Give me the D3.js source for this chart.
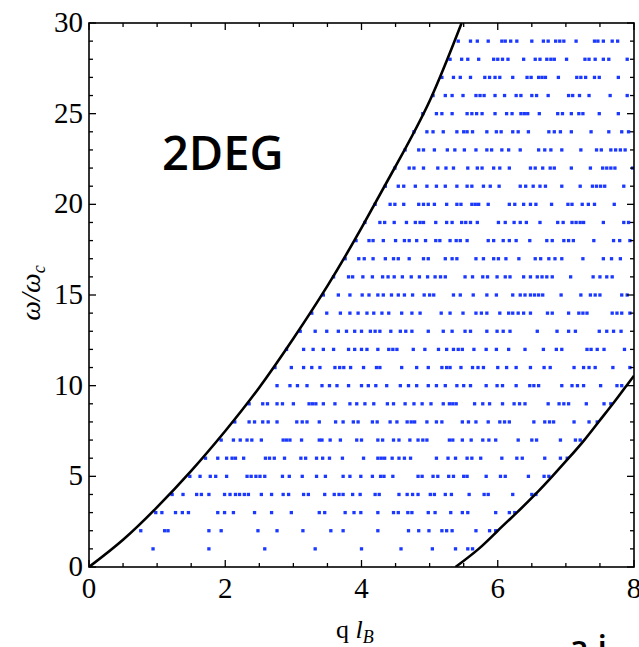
<!DOCTYPE html>
<html>
<head>
<meta charset="utf-8">
<script src="https://cdn.jsdelivr.net/npm/d3@7"></script>
<style>
  body { margin: 0; background: #fff; overflow: hidden; }
  svg { display: block; }
</style>
</head>
<body>
<svg id="chart"></svg>
<script>
// axis ticks
const xMajor = [0, 2, 4, 6, 8];
const xMinor = [0.5, 1, 1.5, 2.5, 3, 3.5, 4.5, 5, 5.5, 6.5, 7, 7.5];
const yMajor = [0, 5, 10, 15, 20, 25, 30];
const yMinor = [1, 2, 3, 4, 6, 7, 8, 9, 11, 12, 13, 14, 16, 17, 18, 19, 21, 22, 23, 24, 26, 27, 28, 29];

// boundary curves (q, w)
const upperCurve = [[0, 0], [0.5, 1.5], [1, 3.3], [1.5, 5.3], [2, 7.5], [2.5, 9.9], [3, 12.6],
  [3.5, 15.5], [4, 18.7], [4.5, 22.1], [5, 25.7], [5.47, 30]];
const lowerCurve = [[5.38, 0], [5.72, 1], [6, 2], [6.28, 3], [6.55, 4], [6.8, 5], [7.04, 6],
  [7.27, 7], [7.48, 8], [7.69, 9], [7.89, 10], [8, 10.55]];

// continuum dots: row levels and the q positions in each row
const rowLevels = [1, 2, 3, 4, 5, 6, 7, 8, 9, 10, 11, 12, 13, 14, 15, 16, 17, 18, 19, 20,
  21, 22, 23, 24, 25, 26, 27, 28, 29];
const rowDots = [
  [0.94, 1.76, 2.58, 3.32, 4.0, 4.58, 5.04, 5.38, 5.56, 5.63],
  [0.76, 1.11, 1.16, 1.76, 1.94, 2.48, 2.76, 3.14, 3.55, 3.73, 4.24, 4.69, 4.84, 4.99, 5.18, 5.25, 5.33, 5.68, 5.88, 5.97],
  [0.98, 1.07, 1.27, 1.37, 1.46, 1.89, 1.99, 2.12, 2.43, 2.68, 2.97, 3.38, 3.46, 3.76, 3.89, 3.99, 4.24, 4.47, 4.54, 4.68, 4.74, 4.98, 5.08, 5.31, 5.48, 5.56, 5.97, 6.17, 6.25],
  [1.22, 1.38, 1.58, 1.65, 1.76, 1.99, 2.07, 2.15, 2.21, 2.28, 2.34, 2.53, 2.68, 2.85, 2.93, 3.15, 3.22, 3.46, 3.6, 3.67, 3.73, 3.87, 3.98, 4.2, 4.26, 4.55, 4.67, 4.75, 4.83, 5.01, 5.07, 5.23, 5.32, 5.58, 5.8, 5.86, 6.22, 6.5, 6.56],
  [1.48, 1.63, 1.78, 1.86, 2.02, 2.32, 2.38, 2.45, 2.51, 2.58, 2.84, 2.94, 3.13, 3.34, 3.47, 3.73, 3.83, 3.99, 4.16, 4.28, 4.33, 4.46, 4.83, 4.89, 5.05, 5.12, 5.28, 5.35, 5.5, 5.55, 5.83, 6.04, 6.11, 6.45, 6.68, 6.75],
  [1.71, 1.89, 2.02, 2.1, 2.15, 2.27, 2.59, 2.65, 2.72, 2.87, 3.11, 3.18, 3.34, 3.43, 3.53, 3.72, 4.03, 4.24, 4.29, 4.34, 4.45, 4.55, 4.63, 4.72, 5.1, 5.27, 5.38, 5.55, 5.62, 5.75, 6.06, 6.28, 6.36, 6.69, 6.92, 7.02],
  [1.94, 2.12, 2.22, 2.32, 2.39, 2.53, 2.85, 2.9, 2.95, 3.12, 3.38, 3.42, 3.54, 3.69, 3.93, 4.0, 4.24, 4.31, 4.47, 4.55, 4.71, 4.83, 4.9, 4.96, 5.29, 5.34, 5.48, 5.61, 5.78, 5.87, 5.97, 6.3, 6.5, 6.57, 6.92, 7.14, 7.21],
  [2.14, 2.35, 2.43, 2.55, 2.63, 2.76, 3.05, 3.13, 3.2, 3.38, 3.62, 3.73, 3.88, 3.95, 4.16, 4.23, 4.42, 4.52, 4.67, 4.73, 4.78, 4.96, 5.1, 5.18, 5.48, 5.57, 5.68, 5.86, 6.03, 6.1, 6.17, 6.53, 6.69, 6.76, 6.82, 7.12, 7.34, 7.46],
  [2.35, 2.55, 2.62, 2.76, 2.84, 3.0, 3.23, 3.28, 3.33, 3.44, 3.61, 3.83, 3.93, 4.05, 4.18, 4.38, 4.47, 4.64, 4.77, 4.89, 5.02, 5.2, 5.29, 5.34, 5.39, 5.66, 5.78, 5.88, 6.07, 6.24, 6.32, 6.4, 6.74, 6.9, 6.97, 7.04, 7.3, 7.56, 7.66],
  [2.76, 2.95, 3.06, 3.2, 3.42, 3.53, 3.64, 3.81, 4.0, 4.1, 4.21, 4.37, 4.57, 4.69, 4.81, 4.98, 5.1, 5.23, 5.4, 5.5, 5.6, 5.83, 5.99, 6.07, 6.27, 6.47, 6.53, 6.6, 6.94, 7.09, 7.17, 7.26, 7.51, 7.75, 7.82],
  [2.73, 2.97, 3.15, 3.27, 3.39, 3.61, 3.68, 3.74, 3.84, 4.03, 4.22, 4.27, 4.59, 4.81, 4.98, 5.18, 5.25, 5.3, 5.46, 5.63, 5.71, 5.79, 6.0, 6.13, 6.27, 6.48, 6.68, 6.77, 7.12, 7.26, 7.34, 7.43, 7.69, 7.94],
  [2.9, 3.15, 3.29, 3.44, 3.59, 3.81, 3.9, 4.0, 4.08, 4.24, 4.4, 4.46, 4.52, 4.76, 4.93, 5.13, 5.25, 5.35, 5.42, 5.48, 5.65, 5.83, 5.98, 6.16, 6.4, 6.67, 6.86, 6.94, 7.31, 7.37, 7.46, 7.56, 7.86],
  [3.1, 3.32, 3.49, 3.66, 3.78, 3.9, 4.0, 4.13, 4.2, 4.27, 4.43, 4.57, 4.65, 4.74, 4.98, 5.2, 5.33, 5.52, 5.6, 5.84, 5.99, 6.08, 6.18, 6.58, 6.87, 7.04, 7.14, 7.49, 7.6, 7.7, 7.81],
  [3.27, 3.49, 3.69, 3.83, 3.95, 4.08, 4.18, 4.3, 4.4, 4.59, 4.74, 4.86, 5.17, 5.3, 5.49, 5.68, 5.76, 5.84, 6.03, 6.16, 6.22, 6.3, 6.38, 6.48, 6.73, 6.8, 7.04, 7.19, 7.25, 7.31, 7.68, 7.75, 7.82, 7.94],
  [3.44, 3.66, 3.83, 4.01, 4.11, 4.24, 4.32, 4.44, 4.54, 4.63, 4.75, 4.92, 5.0, 5.06, 5.35, 5.45, 5.64, 5.84, 5.98, 6.22, 6.33, 6.4, 6.48, 6.54, 6.6, 6.66, 6.93, 7.22, 7.36, 7.43, 7.5, 7.82, 7.9],
  [3.59, 3.81, 3.87, 4.02, 4.16, 4.31, 4.39, 4.48, 4.6, 4.73, 4.85, 4.97, 5.08, 5.16, 5.23, 5.52, 5.63, 5.78, 5.85, 5.99, 6.11, 6.18, 6.38, 6.48, 6.58, 6.65, 6.72, 6.8, 7.07, 7.4, 7.5, 7.6, 7.68],
  [3.76, 3.96, 4.04, 4.17, 4.35, 4.47, 4.54, 4.7, 4.91, 4.98, 5.23, 5.33, 5.4, 5.68, 5.79, 5.94, 6.01, 6.12, 6.31, 6.55, 6.63, 6.75, 6.84, 6.94, 7.25, 7.55, 7.67, 7.8],
  [3.92, 4.11, 4.17, 4.32, 4.5, 4.63, 4.7, 4.81, 4.94, 5.09, 5.15, 5.3, 5.39, 5.45, 5.55, 5.86, 5.94, 6.08, 6.17, 6.27, 6.47, 6.72, 6.8, 6.97, 7.04, 7.11, 7.41, 7.7, 7.79, 7.94],
  [4.05, 4.27, 4.34, 4.48, 4.66, 4.79, 4.86, 4.91, 5.09, 5.25, 5.33, 5.47, 5.53, 5.6, 5.7, 6.01, 6.11, 6.24, 6.33, 6.42, 6.62, 6.88, 6.96, 7.09, 7.15, 7.21, 7.26, 7.55, 7.85, 7.92],
  [4.2, 4.42, 4.49, 4.62, 4.84, 4.91, 4.98, 5.07, 5.25, 5.4, 5.46, 5.62, 5.67, 5.72, 5.86, 6.17, 6.25, 6.38, 6.48, 6.56, 6.79, 7.03, 7.09, 7.24, 7.33, 7.42, 7.71],
  [4.35, 4.54, 4.62, 4.79, 4.96, 5.1, 5.23, 5.4, 5.55, 5.62, 5.79, 5.89, 6.02, 6.33, 6.41, 6.52, 6.62, 6.7, 6.94, 7.21, 7.39, 7.45, 7.51, 7.57, 7.85],
  [4.49, 4.7, 4.77, 4.91, 5.12, 5.24, 5.35, 5.56, 5.7, 5.77, 5.94, 6.03, 6.17, 6.48, 6.55, 6.66, 6.77, 6.83, 7.08, 7.36, 7.54, 7.6, 7.66, 7.72, 7.98],
  [4.64, 4.84, 4.91, 5.07, 5.26, 5.37, 5.51, 5.68, 5.84, 5.91, 6.06, 6.16, 6.33, 6.6, 6.69, 6.78, 6.94, 7.22, 7.45, 7.52, 7.66, 7.73, 7.8, 7.87],
  [4.77, 4.96, 5.05, 5.2, 5.4, 5.5, 5.55, 5.63, 5.84, 5.98, 6.05, 6.22, 6.3, 6.45, 6.75, 6.83, 6.92, 7.08, 7.37, 7.63, 7.82, 7.92],
  [4.9, 5.1, 5.18, 5.33, 5.55, 5.62, 5.69, 5.77, 5.96, 6.13, 6.21, 6.34, 6.39, 6.44, 6.61, 6.88, 6.95, 7.08, 7.19, 7.25, 7.49, 7.77],
  [5.05, 5.23, 5.33, 5.49, 5.68, 5.74, 5.8, 5.96, 6.1, 6.27, 6.34, 6.5, 6.57, 6.74, 7.04, 7.1, 7.2, 7.34, 7.65, 7.9],
  [5.18, 5.35, 5.45, 5.6, 5.81, 5.88, 5.96, 6.03, 6.22, 6.43, 6.49, 6.6, 6.65, 6.7, 6.89, 7.16, 7.22, 7.29, 7.42, 7.49, 7.77],
  [5.3, 5.47, 5.56, 5.72, 5.94, 6.0, 6.07, 6.15, 6.38, 6.55, 6.62, 6.72, 6.78, 6.83, 7.01, 7.28, 7.34, 7.43, 7.55, 7.63, 7.9],
  [5.42, 5.6, 5.7, 5.86, 6.06, 6.11, 6.19, 6.28, 6.5, 6.67, 6.74, 6.85, 6.91, 6.97, 7.15, 7.42, 7.47, 7.55, 7.68, 7.76]
];

const width = 639;
const height = 647;
const margin = { left: 89, right: 5, top: 23, bottom: 80 };
const innerW = width - margin.left - margin.right;
const innerH = height - margin.top - margin.bottom;

const svg = d3.select("#chart").attr("width", width).attr("height", height);

const xScale = d3.scaleLinear().domain([0, 8]).range([0, innerW]);
const yScale = d3.scaleLinear().domain([0, 30]).range([innerH, 0]);

const container = svg.append("g")
  .attr("transform", `translate(${margin.left}, ${margin.top})`);

container.append("clipPath").attr("id", "plot-clip")
  .append("rect").attr("width", innerW).attr("height", innerH);

// dots
const dots = [];
rowDots.forEach((row, i) => row.forEach((q) => dots.push({ q: q, w: rowLevels[i] })));
const dotSize = 3.3;
container.append("g")
  .attr("clip-path", "url(#plot-clip)")
  .selectAll("rect")
  .data(dots)
  .join("rect")
  .attr("x", (d) => xScale(d.q) - dotSize / 2)
  .attr("y", (d) => yScale(d.w) - dotSize / 2)
  .attr("width", dotSize)
  .attr("height", dotSize)
  .attr("fill", "#1a38ff");

// boundary curves
const lineGen = d3.line()
  .x((d) => xScale(d[0]))
  .y((d) => yScale(d[1]))
  .curve(d3.curveNatural);

[upperCurve, lowerCurve].forEach((c) => {
  container.append("path")
    .datum(c)
    .attr("clip-path", "url(#plot-clip)")
    .attr("fill", "none")
    .attr("stroke", "#000")
    .attr("stroke-width", 2.6)
    .attr("d", lineGen);
});

// frame ticks, inward on all four sides
const majorLen = 7, minorLen = 4;
const tickG = container.append("g").attr("stroke", "#000").attr("stroke-width", 1.3);
function xTicks(vals, len) {
  vals.forEach((v) => {
    tickG.append("line").attr("x1", xScale(v)).attr("x2", xScale(v))
      .attr("y1", innerH).attr("y2", innerH - len);
    tickG.append("line").attr("x1", xScale(v)).attr("x2", xScale(v))
      .attr("y1", 0).attr("y2", len);
  });
}
function yTicks(vals, len) {
  vals.forEach((v) => {
    tickG.append("line").attr("y1", yScale(v)).attr("y2", yScale(v))
      .attr("x1", 0).attr("x2", len);
    tickG.append("line").attr("y1", yScale(v)).attr("y2", yScale(v))
      .attr("x1", innerW).attr("x2", innerW - len);
  });
}
xTicks(xMajor, majorLen);
xTicks(xMinor, minorLen);
yTicks(yMajor, majorLen);
yTicks(yMinor, minorLen);

container.append("rect")
  .attr("width", innerW)
  .attr("height", innerH)
  .attr("fill", "none")
  .attr("stroke", "#000")
  .attr("stroke-width", 1.6);

// tick labels
const labelFont = "'Liberation Serif', 'Times New Roman', serif";
container.append("g").selectAll("text")
  .data(xMajor)
  .join("text")
  .attr("x", (d) => xScale(d))
  .attr("y", innerH + 31)
  .attr("text-anchor", "middle")
  .style("font-family", labelFont)
  .style("font-size", "29px")
  .text((d) => d);

container.append("g").selectAll("text")
  .data(yMajor)
  .join("text")
  .attr("x", -6)
  .attr("y", (d) => yScale(d) + 9)
  .attr("text-anchor", "end")
  .style("font-family", labelFont)
  .style("font-size", "29px")
  .text((d) => d);

// axis titles
const xTitle = svg.append("text")
  .attr("x", 336)
  .attr("y", 638)
  .style("font-family", labelFont)
  .style("font-size", "26px");
xTitle.append("tspan").text("q ");
xTitle.append("tspan").style("font-style", "italic").text("l");
xTitle.append("tspan").style("font-style", "italic").style("font-size", "18px")
  .attr("dy", 5).text("B");

const yTitle = svg.append("text")
  .attr("transform", "translate(40, 293) rotate(-90)")
  .attr("text-anchor", "middle")
  .style("font-family", labelFont)
  .style("font-size", "28px")
  .style("font-style", "italic");
yTitle.append("tspan").text("ω/ω");
yTitle.append("tspan").style("font-size", "18px").attr("dy", 5).text("c");

// panel label
svg.append("text")
  .attr("x", 162)
  .attr("y", 170)
  .style("font-family", "'Open Sans', sans-serif")
  .style("font-weight", 600)
  .style("font-size", "47px")
  .text("2DEG");

// fragment of slide text cut off at the bottom edge
svg.append("text")
  .attr("x", 569)
  .attr("y", 660)
  .style("font-family", "'Open Sans', sans-serif")
  .style("font-weight", 600)
  .style("font-size", "34px")
  .text("a  i");
</script>
</body>
</html>
